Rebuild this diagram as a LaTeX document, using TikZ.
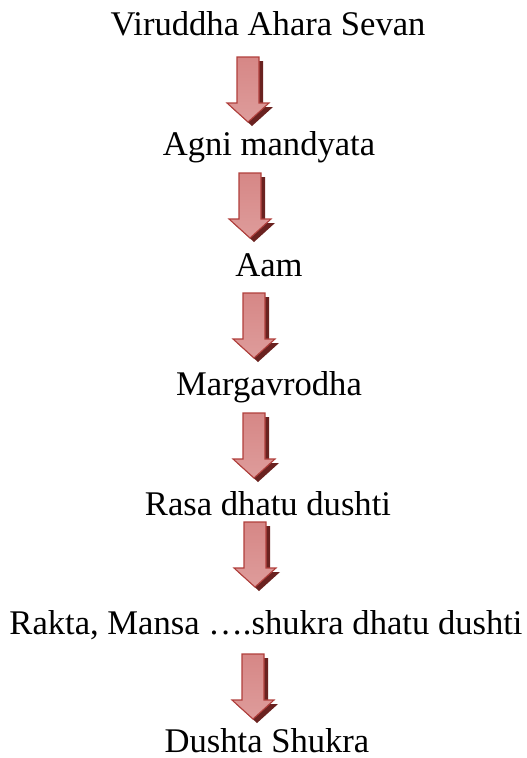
\documentclass[tikz,border=0pt]{standalone}
\usepackage{fontspec}
\setmainfont{Liberation Serif}
\definecolor{arrowtop}{HTML}{D68786}
\definecolor{arrowmid}{HTML}{BE4946}
\definecolor{arrowlow}{HTML}{DE9C9B}
\definecolor{arrowedge}{HTML}{B03F3C}
\definecolor{arrowshade}{HTML}{6A2220}
\newcommand{\stagefont}{\fontsize{34.6}{40}\selectfont}
\newcommand{\shaftw}{11}
\newcommand{\headw}{21}
\newcommand{\shoulder}{46}
\newcommand{\arrowlen}{65}

\tikzset{
  stage/.style={anchor=base, inner sep=0pt, font=\stagefont},
  fatarrow/.pic={
    % shadow, shifted down right
    \fill[arrowshade] (-\shaftw+4,4) -- (\shaftw+4,4) -- (\shaftw+4,\shoulder+4) -- (\headw+4,\shoulder+4)
      -- (4,\arrowlen+4) -- (-\headw+4,\shoulder+4) -- (-\shaftw+4,\shoulder+4) -- cycle;
    % arrow body
    \draw[arrowedge, line width=1.1pt, top color=arrowtop, middle color=arrowmid, bottom color=arrowlow]
      (-\shaftw,0) -- (\shaftw,0) -- (\shaftw,\shoulder) -- (\headw,\shoulder)
      -- (0,\arrowlen) -- (-\headw,\shoulder) -- (-\shaftw,\shoulder) -- cycle;
  }
}

\begin{document}
\begin{tikzpicture}[x=1pt,y=-1pt]
    \useasboundingbox (0,0) rectangle (527,758);

    % the stages, one under the other
    \node[stage] (viruddha) at (268,35) {Viruddha Ahara Sevan};
    \node[stage] (agni) at (269,155) {Agni mandyata};
    \node[stage] (aam) at (269,276) {Aam};
    \node[stage] (marga) at (269,395) {Margavrodha};
    \node[stage] (rasa) at (268,515) {Rasa dhatu dushti};
    \node[stage] (rakta) at (266,634) {Rakta, Mansa ….shukra dhatu dushti};
    \node[stage] (shukra) at (267,752) {Dushta Shukra};

    % block arrows between the stages
    \foreach \i/\ax/\ay in {1/248/57, 2/250/173, 3/254/293, 4/254/413, 5/255/522, 6/253/654}
        \pic (arrow\i) at (\ax,\ay) {fatarrow};
\end{tikzpicture}
\end{document}
